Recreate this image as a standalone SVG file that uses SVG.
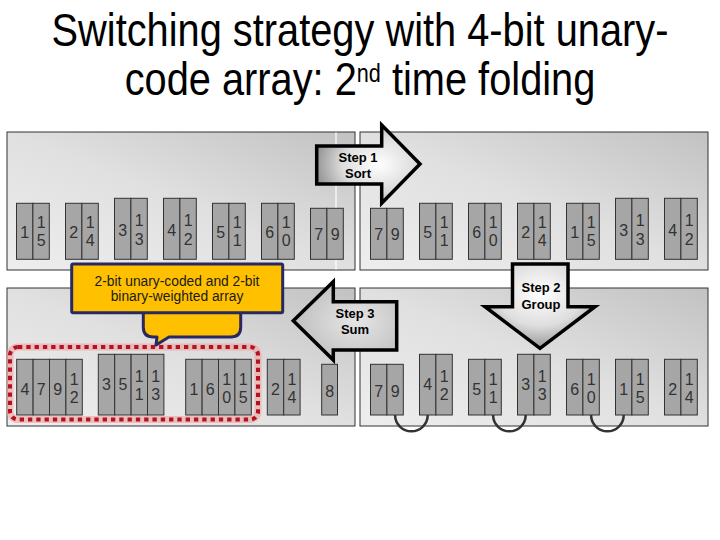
<svg xmlns="http://www.w3.org/2000/svg" width="720" height="540" viewBox="0 0 720 540">
<defs>
<linearGradient id="pg" x1="0" y1="1" x2="1" y2="0">
<stop offset="0" stop-color="#eeeeee"/><stop offset="0.5" stop-color="#e0e0e0"/><stop offset="1" stop-color="#c2c2c2"/>
</linearGradient>
<radialGradient id="ag" cx="0.6" cy="0.5" r="0.65">
<stop offset="0" stop-color="#ffffff"/><stop offset="0.55" stop-color="#dcdcdc"/><stop offset="1" stop-color="#8a8a8a"/>
</radialGradient>
<radialGradient id="ag2" cx="0.5" cy="0.35" r="0.7">
<stop offset="0" stop-color="#ffffff"/><stop offset="0.55" stop-color="#dedede"/><stop offset="1" stop-color="#8a8a8a"/>
</radialGradient>
<radialGradient id="ag3" cx="0.6" cy="0.5" r="0.7">
<stop offset="0" stop-color="#e6e6e6"/><stop offset="1" stop-color="#b8b8b8"/>
</radialGradient>
</defs>
<style>
.t{font-family:"Liberation Sans",Arial,sans-serif;fill:#000}
.p{fill:url(#pg);stroke:#333;stroke-width:1}
.c{fill:#a6a6a6;stroke:#333;stroke-width:1}
.d{font-family:"Liberation Sans",Arial,sans-serif;font-size:16px;fill:#333;text-anchor:middle}
.ar{stroke:#000;stroke-width:3.5;stroke-linejoin:miter}
.al{font-family:"Liberation Sans",Arial,sans-serif;font-size:13px;font-weight:bold;fill:#000;text-anchor:middle}
.cl{font-family:"Liberation Sans",Arial,sans-serif;font-size:13.8px;fill:#1a1a1a;text-anchor:middle}
.lk{fill:none;stroke:#333;stroke-width:2.5}
</style>

<g id="title">
<g transform="translate(360,0) scale(0.865,1)">
<text class="t" x="0" y="46" font-size="46" text-anchor="middle">Switching strategy with 4-bit unary-</text>
<text class="t" x="0" y="95" font-size="46" text-anchor="middle">code array: 2<tspan font-size="25" dy="-13">nd</tspan><tspan dy="13"> time folding</tspan></text>
</g>
</g>

<g id="panels">
<rect class="p" x="7" y="132" width="348" height="138"/>
<line x1="336" y1="132.5" x2="336" y2="269.5" stroke="#ffffff" stroke-width="1.2"/>
<rect class="p" x="360" y="132" width="348" height="138"/>
<rect class="p" x="7" y="288" width="348" height="138"/>
<rect class="p" x="360" y="288" width="348" height="138"/>
</g>

<!-- top-left -->
<g id="tl1"><rect class="c" x="16.5" y="203.3" width="16.4" height="56"/><rect class="c" x="32.9" y="203.3" width="16.4" height="56"/>
<text class="d" x="24.7" y="237.5">1</text><text class="d" x="41.1" y="228">1</text><text class="d" x="41.1" y="246">5</text></g>
<g id="tl2"><rect class="c" x="65.5" y="203.3" width="16.4" height="56"/><rect class="c" x="81.9" y="203.3" width="16.4" height="56"/>
<text class="d" x="73.7" y="237.5">2</text><text class="d" x="90.1" y="228">1</text><text class="d" x="90.1" y="246">4</text></g>
<g id="tl3"><rect class="c" x="114.5" y="198.3" width="16.4" height="61"/><rect class="c" x="130.9" y="198.3" width="16.4" height="61"/>
<text class="d" x="122.7" y="235.5">3</text><text class="d" x="139.1" y="225.5">1</text><text class="d" x="139.1" y="245">3</text></g>
<g id="tl4"><rect class="c" x="163.5" y="198.3" width="16.4" height="61"/><rect class="c" x="179.9" y="198.3" width="16.4" height="61"/>
<text class="d" x="171.7" y="235.5">4</text><text class="d" x="188.1" y="225.5">1</text><text class="d" x="188.1" y="245">2</text></g>
<g id="tl5"><rect class="c" x="212.5" y="203.3" width="16.4" height="56"/><rect class="c" x="228.9" y="203.3" width="16.4" height="56"/>
<text class="d" x="220.7" y="237.5">5</text><text class="d" x="237.1" y="228">1</text><text class="d" x="237.1" y="246">1</text></g>
<g id="tl6"><rect class="c" x="261.5" y="203.3" width="16.4" height="56"/><rect class="c" x="277.9" y="203.3" width="16.4" height="56"/>
<text class="d" x="269.7" y="237.5">6</text><text class="d" x="286.1" y="228">1</text><text class="d" x="286.1" y="246">0</text></g>
<g id="tl7"><rect class="c" x="310.5" y="208.3" width="16.4" height="51"/><rect class="c" x="326.9" y="208.3" width="16.4" height="51"/>
<text class="d" x="318.7" y="239.8">7</text><text class="d" x="335.1" y="239.8">9</text></g>

<!-- top-right -->
<g id="tr1"><rect class="c" x="370.5" y="208.3" width="16.4" height="51"/><rect class="c" x="386.9" y="208.3" width="16.4" height="51"/>
<text class="d" x="378.7" y="239.8">7</text><text class="d" x="395.1" y="239.8">9</text></g>
<g id="tr2"><rect class="c" x="419.5" y="203.3" width="16.4" height="56"/><rect class="c" x="435.9" y="203.3" width="16.4" height="56"/>
<text class="d" x="427.7" y="237.5">5</text><text class="d" x="444.1" y="228">1</text><text class="d" x="444.1" y="246">1</text></g>
<g id="tr3"><rect class="c" x="468.5" y="203.3" width="16.4" height="56"/><rect class="c" x="484.9" y="203.3" width="16.4" height="56"/>
<text class="d" x="476.7" y="237.5">6</text><text class="d" x="493.1" y="228">1</text><text class="d" x="493.1" y="246">0</text></g>
<g id="tr4"><rect class="c" x="517.5" y="203.3" width="16.4" height="56"/><rect class="c" x="533.9" y="203.3" width="16.4" height="56"/>
<text class="d" x="525.7" y="237.5">2</text><text class="d" x="542.1" y="228">1</text><text class="d" x="542.1" y="246">4</text></g>
<g id="tr5"><rect class="c" x="566.5" y="203.3" width="16.4" height="56"/><rect class="c" x="582.9" y="203.3" width="16.4" height="56"/>
<text class="d" x="574.7" y="237.5">1</text><text class="d" x="591.1" y="228">1</text><text class="d" x="591.1" y="246">5</text></g>
<g id="tr6"><rect class="c" x="615.5" y="198.3" width="16.4" height="61"/><rect class="c" x="631.9" y="198.3" width="16.4" height="61"/>
<text class="d" x="623.7" y="235.5">3</text><text class="d" x="640.1" y="225.5">1</text><text class="d" x="640.1" y="245">3</text></g>
<g id="tr7"><rect class="c" x="664.5" y="198.3" width="16.4" height="61"/><rect class="c" x="680.9" y="198.3" width="16.4" height="61"/>
<text class="d" x="672.7" y="235.5">4</text><text class="d" x="689.1" y="225.5">1</text><text class="d" x="689.1" y="245">2</text></g>

<!-- bottom-left -->
<g id="bl1"><rect class="c" x="16.7" y="359.3" width="16.4" height="55.7"/><rect class="c" x="33.1" y="359.3" width="16.4" height="55.7"/><rect class="c" x="49.5" y="359.3" width="16.4" height="55.7"/><rect class="c" x="65.9" y="359.3" width="16.4" height="55.7"/>
<text class="d" x="24.9" y="394.5">4</text><text class="d" x="41.3" y="394.5">7</text><text class="d" x="57.7" y="394.5">9</text><text class="d" x="74.1" y="384.5">1</text><text class="d" x="74.1" y="402.5">2</text></g>
<g id="bl2"><rect class="c" x="98.3" y="354.3" width="16.4" height="60.7"/><rect class="c" x="114.7" y="354.3" width="16.4" height="60.7"/><rect class="c" x="131.1" y="354.3" width="16.4" height="60.7"/><rect class="c" x="147.5" y="354.3" width="16.4" height="60.7"/>
<text class="d" x="106.5" y="390">3</text><text class="d" x="122.9" y="390">5</text><text class="d" x="139.3" y="381.5">1</text><text class="d" x="139.3" y="400">1</text><text class="d" x="155.7" y="381.5">1</text><text class="d" x="155.7" y="400">3</text></g>
<g id="bl3"><rect class="c" x="185.7" y="359.3" width="16.4" height="55.7"/><rect class="c" x="202.1" y="359.3" width="16.4" height="55.7"/><rect class="c" x="218.5" y="359.3" width="16.4" height="55.7"/><rect class="c" x="234.9" y="359.3" width="16.4" height="55.7"/>
<text class="d" x="193.9" y="394.5">1</text><text class="d" x="210.3" y="394.5">6</text><text class="d" x="226.7" y="384.5">1</text><text class="d" x="226.7" y="402.5">0</text><text class="d" x="243.1" y="384.5">1</text><text class="d" x="243.1" y="402.5">5</text></g>
<g id="bl4"><rect class="c" x="267.3" y="359.3" width="16.4" height="55.7"/><rect class="c" x="283.7" y="359.3" width="16.4" height="55.7"/>
<text class="d" x="275.5" y="394.5">2</text><text class="d" x="291.9" y="384.5">1</text><text class="d" x="291.9" y="402.5">4</text></g>
<g id="bl5"><rect class="c" x="321.7" y="364.3" width="15.8" height="50.7"/>
<text class="d" x="329.6" y="396.5">8</text></g>

<!-- bottom-right -->
<g id="br1"><rect class="c" x="370.5" y="364.3" width="16.4" height="50.7"/><rect class="c" x="386.9" y="364.3" width="16.4" height="50.7"/>
<text class="d" x="378.7" y="396.5">7</text><text class="d" x="395.1" y="396.5">9</text></g>
<g id="br2"><rect class="c" x="419.5" y="354.3" width="16.4" height="60.7"/><rect class="c" x="435.9" y="354.3" width="16.4" height="60.7"/>
<text class="d" x="427.7" y="390">4</text><text class="d" x="444.1" y="381.5">1</text><text class="d" x="444.1" y="400">2</text></g>
<g id="br3"><rect class="c" x="468.5" y="359.3" width="16.4" height="55.7"/><rect class="c" x="484.9" y="359.3" width="16.4" height="55.7"/>
<text class="d" x="476.7" y="394.5">5</text><text class="d" x="493.1" y="384.5">1</text><text class="d" x="493.1" y="402.5">1</text></g>
<g id="br4"><rect class="c" x="517.5" y="354.3" width="16.4" height="60.7"/><rect class="c" x="533.9" y="354.3" width="16.4" height="60.7"/>
<text class="d" x="525.7" y="390">3</text><text class="d" x="542.1" y="381.5">1</text><text class="d" x="542.1" y="400">3</text></g>
<g id="br5"><rect class="c" x="566.5" y="359.3" width="16.4" height="55.7"/><rect class="c" x="582.9" y="359.3" width="16.4" height="55.7"/>
<text class="d" x="574.7" y="394.5">6</text><text class="d" x="591.1" y="384.5">1</text><text class="d" x="591.1" y="402.5">0</text></g>
<g id="br6"><rect class="c" x="615.5" y="359.3" width="16.4" height="55.7"/><rect class="c" x="631.9" y="359.3" width="16.4" height="55.7"/>
<text class="d" x="623.7" y="394.5">1</text><text class="d" x="640.1" y="384.5">1</text><text class="d" x="640.1" y="402.5">5</text></g>
<g id="br7"><rect class="c" x="664.5" y="359.3" width="16.4" height="55.7"/><rect class="c" x="680.9" y="359.3" width="16.4" height="55.7"/>
<text class="d" x="672.7" y="394.5">2</text><text class="d" x="689.1" y="384.5">1</text><text class="d" x="689.1" y="402.5">4</text></g>

<g id="connectors">
<path class="lk" d="M395.1,415 A16.3,16.3 0 0 0 427.7,415"/>
<path class="lk" d="M493.1,415 A16.3,16.3 0 0 0 525.7,415"/>
<path class="lk" d="M591.1,415 A16.3,16.3 0 0 0 623.7,415"/>
</g>

<g id="highlight">
<rect x="10" y="347" width="248" height="72.5" rx="8" fill="none" stroke="#f2a0a0" stroke-opacity="0.6" stroke-width="7"/>
<rect x="10" y="347" width="248" height="72.5" rx="8" fill="none" stroke="#b3121f" stroke-width="4" stroke-dasharray="4.3 4"/>
</g>

<g id="callout">
<path d="M143.3,305 L143.3,327 Q143.3,337 153.3,337 L157,337 L156,345 L169,337 L230.7,337 Q240.7,337 240.7,327 L240.7,305 Z" fill="#ffc000" stroke="#2a2860" stroke-width="3" stroke-linejoin="round"/>
<rect x="71.7" y="264" width="211" height="48.7" rx="1.5" fill="#ffc000" stroke="#2a2860" stroke-width="3"/>
<text class="cl" x="177" y="285.5">2-bit unary-coded and 2-bit</text>
<text class="cl" x="177" y="301">binary-weighted array</text>
</g>

<g id="step1">
<polygon class="ar" fill="url(#ag)" points="316.7,146 381.7,146 381.7,125 420,164 381.7,203.3 381.7,184 316.7,184"/>
<text class="al" x="358" y="161.5">Step 1</text>
<text class="al" x="358" y="178">Sort</text>
</g>

<g id="step2">
<polygon class="ar" fill="url(#ag2)" points="512.5,264 568,264 568,306.7 595,306.7 540,348.3 485,306.7 512.5,306.7"/>
<text class="al" x="541" y="292">Step 2</text>
<text class="al" x="541" y="309">Group</text>
</g>

<g id="step3">
<polygon class="ar" fill="url(#ag3)" points="293.3,320.7 333.3,281.7 333.3,301.7 396.7,301.7 396.7,350 333.3,350 333.3,360"/>
<text class="al" x="355" y="317.5">Step 3</text>
<text class="al" x="355" y="334">Sum</text>
</g>
</svg>
